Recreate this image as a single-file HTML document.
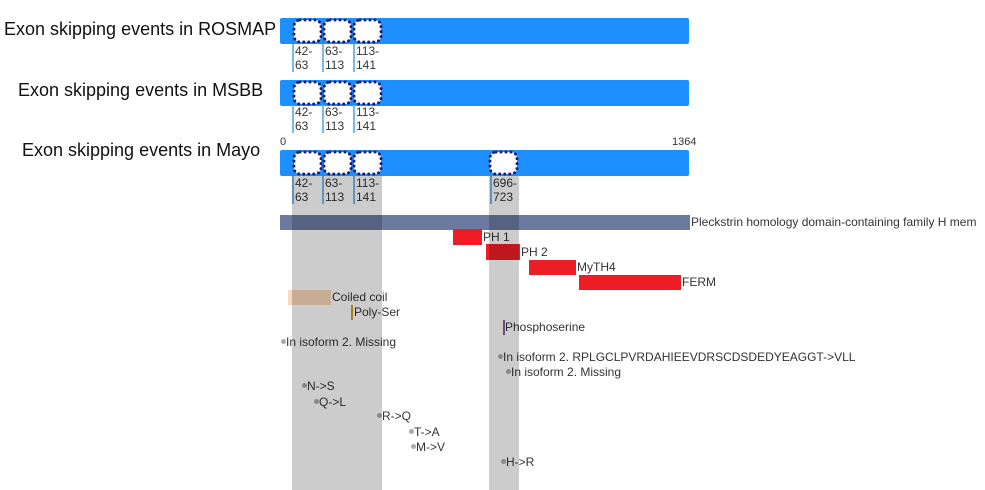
<!DOCTYPE html>
<html><head><style>
body{margin:0;width:985px;height:490px;background:#fff;position:relative;overflow:hidden;font-family:"Liberation Sans",Arial,sans-serif;}
div{position:absolute;}
.t{font-size:18px;color:#111;white-space:nowrap;}
.bar{background:#1e8fff;border-radius:2px;left:280px;width:409px;height:26px;}
.lab{font-size:12px;line-height:14px;color:#333;border-left:2px solid #7ab8f0;padding-left:1px;height:28px;}
.s{font-size:12px;color:#333;white-space:nowrap;line-height:14px;}
.d{width:5px;height:5px;border-radius:50%;background:#aaa;}
.g{background:#ccc;mix-blend-mode:multiply;}
</style></head><body>
<div class="t" style="left:4px;top:19px">Exon skipping events in ROSMAP</div>
<div class="t" style="left:18px;top:80px">Exon skipping events in MSBB</div>
<div class="t" style="left:22px;top:140px">Exon skipping events in Mayo</div>

<div class="bar" style="top:18px"></div>
<div class="bar" style="top:80px"></div>
<div class="bar" style="top:150px;height:26px"></div>
<div class="s" style="left:280px;top:135px;font-size:11px">0</div>
<div class="s" style="left:672px;top:135px;font-size:11px">1364</div>

<div class="lab" style="left:292px;top:44px">42-<br>63</div><div class="lab" style="left:322px;top:44px">63-<br>113</div><div class="lab" style="left:353px;top:44px">113-<br>141</div>
<div class="lab" style="left:292px;top:105px">42-<br>63</div><div class="lab" style="left:322px;top:105px">63-<br>113</div><div class="lab" style="left:353px;top:105px">113-<br>141</div>
<div class="lab" style="left:292px;top:176px">42-<br>63</div><div class="lab" style="left:322px;top:176px">63-<br>113</div><div class="lab" style="left:353px;top:176px">113-<br>141</div><div class="lab" style="left:490px;top:176px">696-<br>723</div>

<div style="left:280px;top:215px;width:410px;height:15px;background:#6c7aa0"></div>
<div class="s" style="left:691px;top:215px">Pleckstrin homology domain-containing family H mem</div>
<div style="left:453px;top:229px;width:29px;height:16px;background:#ee1c25"></div><div class="s" style="left:483px;top:230px">PH 1</div>
<div style="left:486px;top:244px;width:34px;height:16px;background:#ee1c25"></div><div class="s" style="left:521px;top:245px">PH 2</div>
<div style="left:529px;top:260px;width:47px;height:15px;background:#ee1c25"></div><div class="s" style="left:577px;top:260px">MyTH4</div>
<div style="left:579px;top:275px;width:102px;height:15px;background:#ee1c25"></div><div class="s" style="left:682px;top:275px">FERM</div>

<div style="left:288px;top:290px;width:43px;height:15px;background:#f8d9b8"></div><div class="s" style="left:332px;top:290px">Coiled coil</div>
<div style="left:351px;top:305px;width:2px;height:15px;background:#d4a017"></div><div class="s" style="left:354px;top:305px">Poly-Ser</div>
<div style="left:503px;top:320px;width:2px;height:15px;background:#8060a0"></div><div class="s" style="left:505px;top:320px">Phosphoserine</div>

<div class="d" style="left:281px;top:339px"></div><div class="s" style="left:286px;top:335px">In isoform 2. Missing</div>
<div class="d" style="left:498px;top:354px"></div><div class="s" style="left:503px;top:350px">In isoform 2. RPLGCLPVRDAHIEEVDRSCDSDEDYEAGGT-&gt;VLL</div>
<div class="d" style="left:506px;top:369px"></div><div class="s" style="left:511px;top:365px">In isoform 2. Missing</div>
<div class="d" style="left:302px;top:383px"></div><div class="s" style="left:307px;top:379px">N-&gt;S</div>
<div class="d" style="left:314px;top:399px"></div><div class="s" style="left:319px;top:395px">Q-&gt;L</div>
<div class="d" style="left:377px;top:413px"></div><div class="s" style="left:382px;top:409px">R-&gt;Q</div>
<div class="d" style="left:409px;top:429px"></div><div class="s" style="left:414px;top:425px">T-&gt;A</div>
<div class="d" style="left:411px;top:444px"></div><div class="s" style="left:416px;top:440px">M-&gt;V</div>
<div class="d" style="left:501px;top:459px"></div><div class="s" style="left:506px;top:455px">H-&gt;R</div>

<div class="g" style="left:292px;top:176px;width:90px;height:314px"></div>
<div class="g" style="left:489px;top:176px;width:30px;height:314px"></div>

<svg style="position:absolute;left:0;top:0" width="985" height="490">
<g fill="#fff" stroke="#1a1a7a" stroke-width="3" stroke-dasharray="0 5" stroke-linecap="round">
<rect x="294" y="20" width="27" height="22" rx="6"/><rect x="324" y="20" width="27" height="22" rx="6"/><rect x="354" y="20" width="27" height="22" rx="6"/>
<rect x="294" y="82" width="27" height="22" rx="6"/><rect x="324" y="82" width="27" height="22" rx="6"/><rect x="354" y="82" width="27" height="22" rx="6"/>
<rect x="294" y="152" width="27" height="22" rx="6"/><rect x="324" y="152" width="27" height="22" rx="6"/><rect x="354" y="152" width="27" height="22" rx="6"/>
<rect x="490" y="152" width="27" height="22" rx="6"/>
</g></svg>
</body></html>
